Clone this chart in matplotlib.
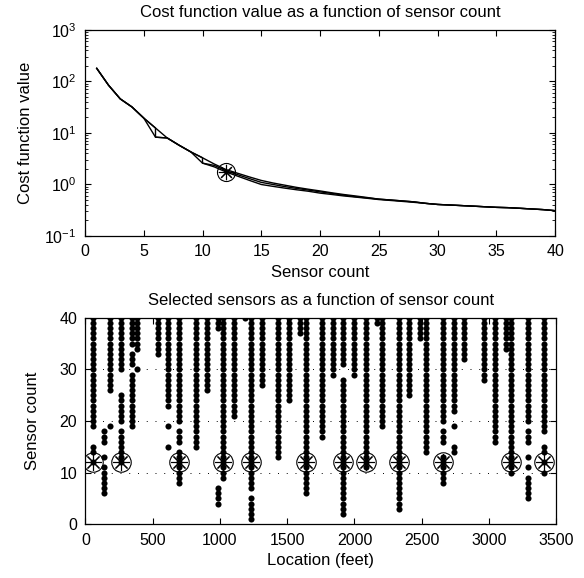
import matplotlib
matplotlib.use("Agg")
import matplotlib.pyplot as plt
import numpy as np

plt.rcParams['font.family'] = ['Liberation Sans', 'DejaVu Sans']
plt.rcParams['font.size'] = 12

# cost curves (top panel)
counts = list(range(1, 41))
cost_upper = [180, 85, 46, 32, 19.5, 12.5, 8.0, 5.8, 4.3, 3.3,
              2.5, 1.95, 1.65, 1.4, 1.2, 1.07, 0.97, 0.88, 0.81, 0.75,
              0.69, 0.64, 0.60, 0.56, 0.52, 0.50, 0.48, 0.46, 0.43, 0.41,
              0.40, 0.39, 0.38, 0.37, 0.36, 0.355, 0.345, 0.335, 0.325, 0.31]
cost_lower = [180, 85, 46, 32, 19.5, 8.3, 8.0, 5.8, 4.3, 2.6,
              2.2, 1.75, 1.45, 1.2, 1.0, 0.92, 0.85, 0.79, 0.74, 0.68,
              0.64, 0.60, 0.57, 0.54, 0.51, 0.49, 0.47, 0.45, 0.43, 0.41,
              0.40, 0.39, 0.38, 0.37, 0.36, 0.355, 0.345, 0.335, 0.325, 0.31]
# middle run, revisits counts 6 and 10
counts_mid = [1, 2, 3, 4, 5, 6, 6, 7, 8, 9, 10, 10, 11, 12, 13, 14, 15, 16, 17, 18,
              19, 20, 21, 22, 23, 24, 25, 26, 27, 28, 29, 30, 31, 32, 33, 34, 35,
              36, 37, 38, 39, 40]
cost_mid = [180, 85, 46, 32, 19.5, 12.5, 8.3, 8.0, 5.8, 4.3, 3.3, 2.6,
            2.35, 1.85, 1.55, 1.3, 1.1, 1.0, 0.91, 0.84, 0.78, 0.72,
            0.67, 0.62, 0.58, 0.55, 0.52, 0.50, 0.48, 0.46, 0.43, 0.41,
            0.40, 0.39, 0.38, 0.37, 0.36, 0.355, 0.345, 0.335, 0.325, 0.31]
chosen_count = 12
chosen_cost = 1.75

# selected sensors (bottom panel): location in feet, runs of sensor counts
locations = [58, 140, 182, 264, 343, 386, 537, 616, 698, 822,
             902, 983, 1025, 1105, 1187, 1229, 1311, 1430, 1514, 1596,
             1638, 1757, 1839, 1918, 2000, 2085, 2167, 2204, 2328, 2407,
             2489, 2531, 2655, 2737, 2817, 2960, 3042, 3126, 3166, 3287, 3412]
runs = [
    [(40, 19), (15, 14), (12, 12)],
    [(18, 16), (13, 13), (11, 6)],
    [(40, 26), (19, 19)],
    [(40, 30), (25, 20), (18, 12)],
    [(40, 35), (33, 31), (29, 19)],
    [(40, 34), (30, 30)],
    [(40, 33)],
    [(40, 23), (19, 19), (15, 15)],
    [(40, 20), (18, 16), (14, 8)],
    [(40, 15)],
    [(40, 26)],
    [(40, 38), (7, 4)],
    [(40, 9)],
    [(40, 21)],
    [(40, 40)],
    [(40, 7), (5, 1)],
    [(40, 27)],
    [(40, 13)],
    [(40, 24)],
    [(40, 37)],
    [(40, 6)],
    [(40, 17)],
    [(40, 29)],
    [(40, 31), (28, 2)],
    [(40, 29)],
    [(40, 11)],
    [(40, 39)],
    [(40, 19)],
    [(40, 3)],
    [(40, 25)],
    [(40, 36)],
    [(40, 14)],
    [(40, 20), (18, 16), (13, 8)],
    [(40, 22), (19, 19), (15, 14)],
    [(40, 32)],
    [(40, 28)],
    [(40, 16)],
    [(40, 34)],
    [(40, 10)],
    [(40, 20), (18, 16), (13, 13), (11, 11), (9, 5)],
    [(40, 18), (15, 14), (12, 12), (10, 10)],
]
chosen_locations = [58, 264, 698, 1025, 1229, 1638, 1918, 2085, 2328, 2655, 3166, 3412]

fig = plt.figure(figsize=(5.84, 5.78), dpi=100)

def matlab_style(ax):
    ax.tick_params(which='both', direction='in', top=True, right=True,
                   labelsize=11.5, pad=6)
    ax.tick_params(which='major', length=4)
    ax.tick_params(which='minor', length=2)
    for s in ax.spines.values():
        s.set_linewidth(0.9)

# top panel
ax1 = fig.add_axes([0.1455, 0.5917, 0.805, 0.3564])
ax1.semilogy(counts, cost_upper, color='k', lw=1)
ax1.semilogy(counts_mid, cost_mid, color='k', lw=1)
ax1.semilogy(counts, cost_lower, color='k', lw=1)
ax1.plot(chosen_count, chosen_cost, 'o', mfc='none', mec='k', ms=13, mew=0.8)
ax1.plot(chosen_count, chosen_cost, marker=(8, 2, 0), color='k', ms=11, mew=0.8)
ax1.set_xlim(0, 40)
ax1.set_ylim(1e-1, 1e3)
ax1.set_xticks(range(0, 41, 5))
ax1.set_xlabel('Sensor count', labelpad=4)
ax1.set_ylabel('Cost function value', labelpad=8)
ax1.set_title('Cost function value as a function of sensor count', fontsize=12, pad=9)
matlab_style(ax1)

# bottom panel
ax2 = fig.add_axes([0.1464, 0.0929, 0.806, 0.3574])
for loc, r in zip(locations, runs):
    ys = []
    for hi, lo in r:
        ys.extend(range(lo, hi + 1))
    ax2.plot([loc] * len(ys), ys, 'o', color='k', ms=4.4, mew=0)
ax2.plot(chosen_locations, [chosen_count] * len(chosen_locations), 'o',
         mfc='none', mec='k', ms=14, mew=0.8)
ax2.plot(chosen_locations, [chosen_count] * len(chosen_locations),
         linestyle='none', marker=(8, 2, 0), color='k', ms=12, mew=0.8)
ax2.set_xlim(0, 3500)
ax2.set_ylim(0, 40)
ax2.set_xticks(range(0, 3501, 500))
ax2.set_yticks(range(0, 41, 10))
ax2.yaxis.grid(True, linestyle=(0, (1, 8)), color='k', lw=0.7)
ax2.set_xlabel('Location (feet)', labelpad=4)
ax2.set_ylabel('Sensor count', labelpad=14)
ax2.set_title('Selected sensors as a function of sensor count', fontsize=12, pad=9)
matlab_style(ax2)

fig.savefig('out.png', dpi=100)
